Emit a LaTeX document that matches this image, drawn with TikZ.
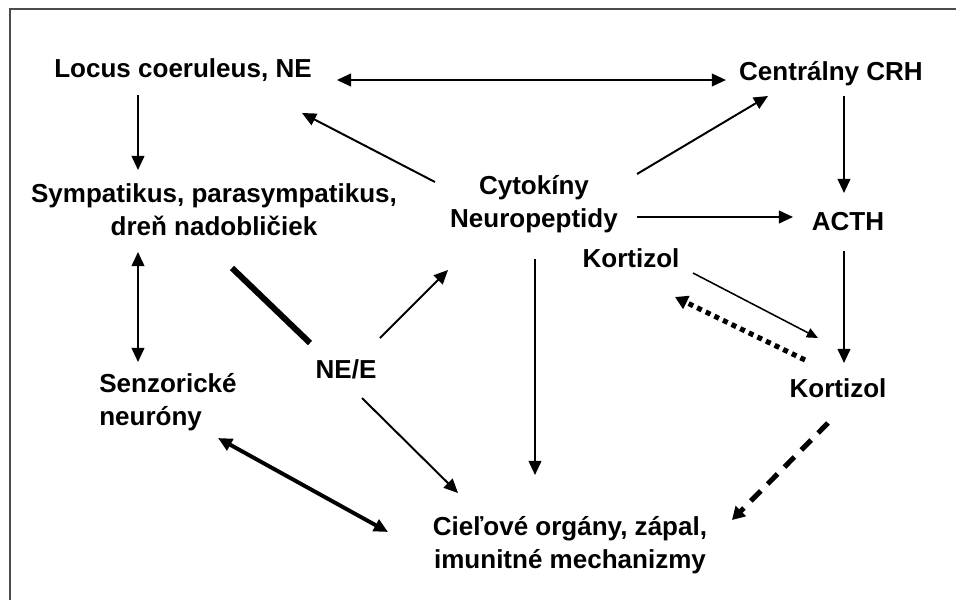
\documentclass[tikz,border=0pt]{standalone}
\usepackage{fontspec}
\setmainfont{Liberation Sans}
\usepackage{tikz}
\usetikzlibrary{calc,arrows.meta}

\begin{document}
\begin{tikzpicture}[x=0.025cm, y=-0.025cm,
        lbl/.style={inner sep=0pt, anchor=base, align=center, font=\bfseries\fontsize{18.5}{22.8}\selectfont},
        arr/.style={line width=1.4pt, -{Triangle[length=10pt, width=9pt]}},
        darr/.style={line width=1.4pt, {Triangle[length=10pt, width=9pt]}-{Triangle[length=10pt, width=9pt]}}]
        \useasboundingbox (0,0) rectangle (956,600);
        \draw[black!70, line width=1pt] (956,9) -- (10,9) -- (10,600);

        \node[lbl] (locus) at (183,77) {Locus coeruleus, NE};
        \node[lbl] (crh) at (831,80) {Centrálny CRH};
        \node[lbl] (symp) at (214,235) {Sympatikus, parasympatikus,\\dreň nadobličiek};
        \node[lbl] (cyto) at (534,227) {Cytokíny\\Neuropeptidy};
        \node[lbl] (acth) at (848,230) {ACTH};
        \node[lbl] (kort1) at (631,267) {Kortizol};
        \node[lbl] (kort2) at (838,397) {Kortizol};
        \node[lbl] (nee) at (346,378) {NE/E};
        \node[lbl, align=left] (senz) at (168,425) {Senzorické\\neuróny};
        \node[lbl] (ciel) at (570,568) {Cieľové orgány, zápal,\\imunitné mechanizmy};

        \draw[darr] ($(locus.base east)+(25,3)$) -- ($(crh.base west)+(-13,0)$);
        \draw[arr] ($(locus.base)+(-45,18)$) -- ($(symp.base)+(-76,-65)$);
        \draw[arr] ($(cyto.base)+(-99,-45)$) -- ($(locus.base)+(119,36)$);
        \draw[arr] ($(cyto.base)+(103,-53)$) -- ($(crh.base)+(-63,16)$);
        \draw[arr] ($(crh.base)+(13,16)$) -- ($(acth.base)+(-4,-37)$);
        \draw[arr] ($(cyto.base)+(103,-10)$) -- ($(acth.base)+(-55,-13)$);
        \draw[darr] ($(symp.base)+(-76,17)$) -- ($(senz.base)+(-30,-63)$);
        \draw[line width=4.3pt] ($(symp.base)+(18,33)$) -- ($(nee.base)+(-36,-35)$);
        \draw[arr] ($(nee.base)+(34,-40)$) -- ($(cyto.base)+(-86,43)$);
        \draw[arr] ($(nee.base)+(16,20)$) -- ($(ciel.base)+(-112,-75)$);
        \draw[darr, line width=2.8pt] ($(senz.base)+(50,13)$) -- ($(ciel.base)+(-182,-36)$);
        \draw[arr] ($(cyto.base)+(1,32)$) -- ($(ciel.base)+(-35,-93)$);
        \draw[line width=1.1pt, -{Triangle[length=8pt, width=7pt]}] ($(kort1.base)+(62,6)$) -- ($(kort2.base)+(-20,-59)$);
        \draw[line width=3.6pt, dash pattern=on 3.6pt off 3.2pt, -{Triangle[length=9pt, width=10pt]}] ($(kort2.base)+(-33,-37)$) -- ($(kort1.base)+(44,30)$);
        \draw[arr] ($(acth.base)+(-4,21)$) -- ($(kort2.base)+(6,-34)$);
        \draw[line width=3.6pt, dash pattern=on 10pt off 7pt, -{Triangle[length=9pt, width=10pt]}] ($(kort2.base)+(-10,26)$) -- ($(ciel.base)+(162,-48)$);
    \end{tikzpicture}
\end{document}
